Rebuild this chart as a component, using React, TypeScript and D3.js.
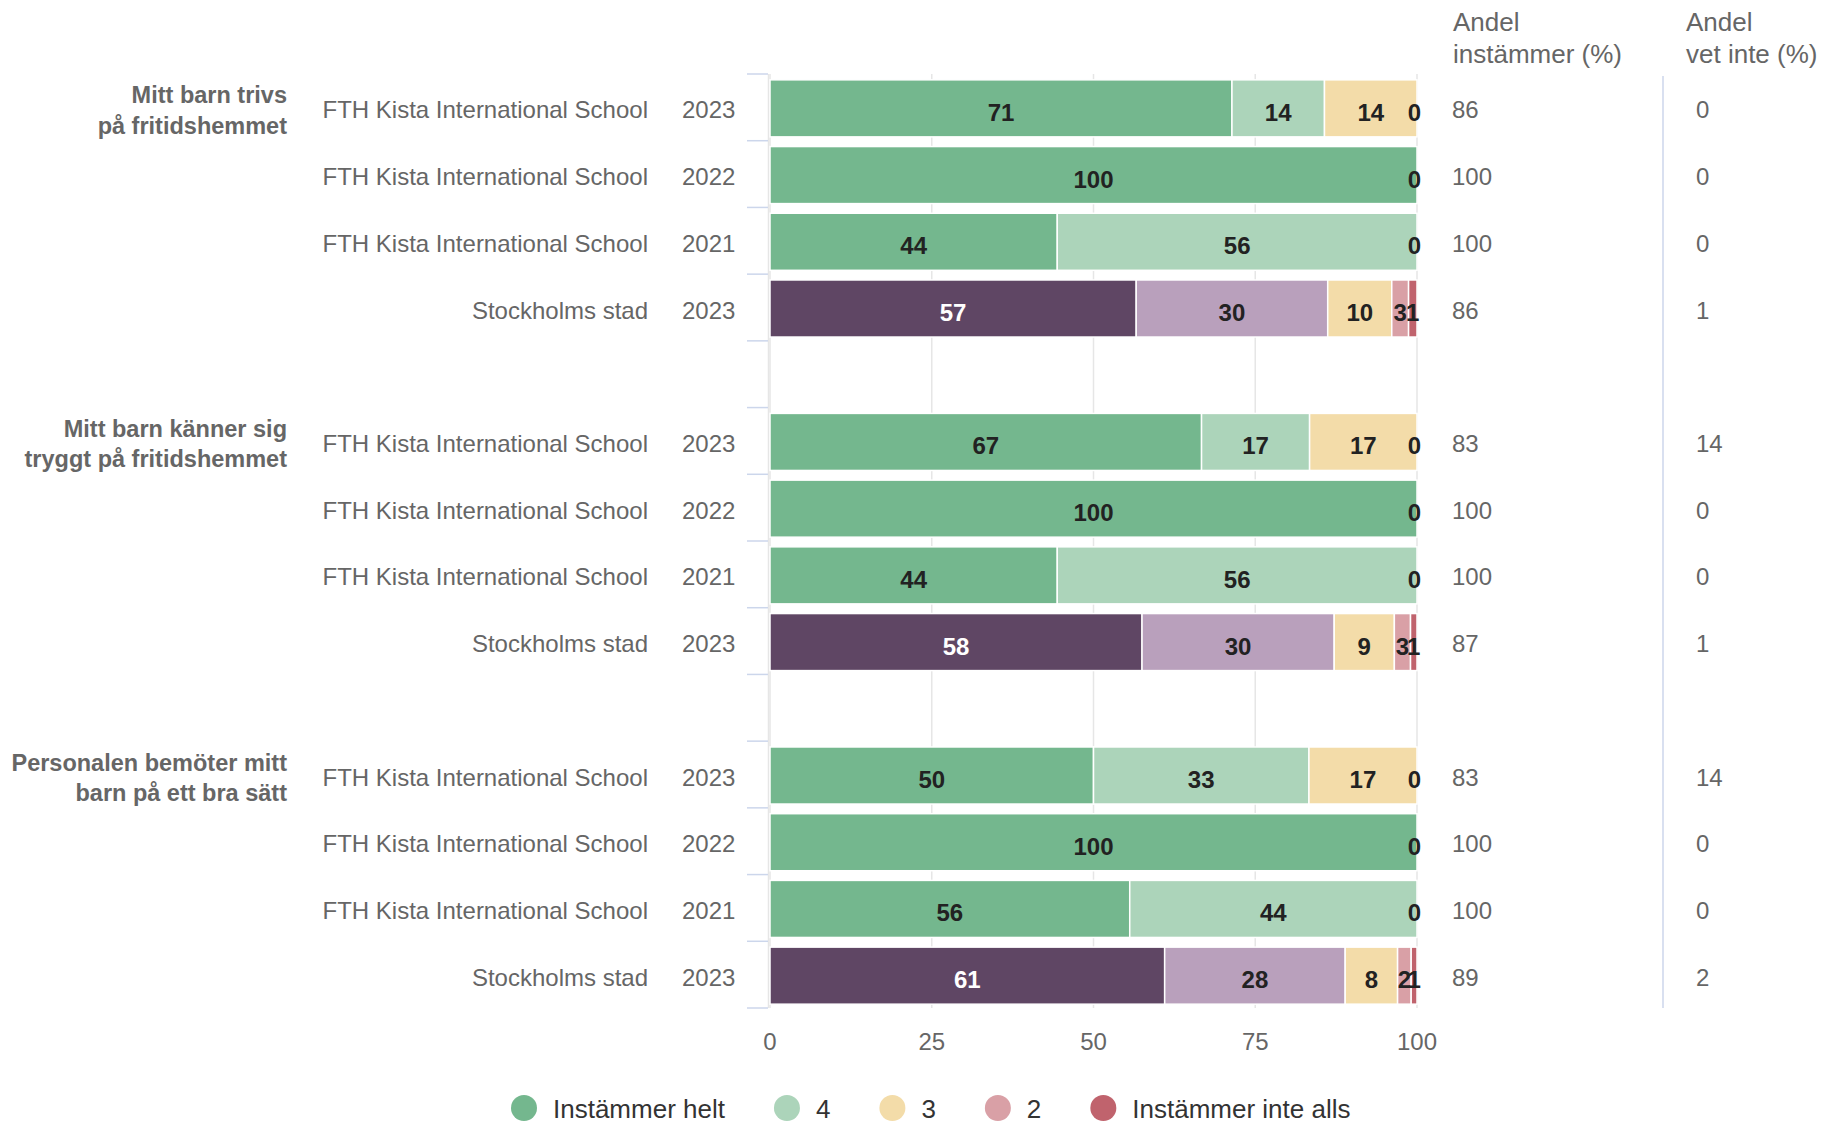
import React, { useMemo } from "react";
import * as d3 from "d3";

const groupLabels: string[][] = [
  ["Mitt barn trivs", "på fritidshemmet"],
  ["Mitt barn känner sig", "tryggt på fritidshemmet"],
  ["Personalen bemöter mitt", "barn på ett bra sätt"],
];

const units = [
  "FTH Kista International School",
  "FTH Kista International School",
  "FTH Kista International School",
  "Stockholms stad",
];
const years = ["2023", "2022", "2021", "2023"];

const seriesNames = ["Instämmer helt", "4", "3", "2", "Instämmer inte alls"];

// one value per row, group by group
const instammerHelt = [71.4, 100, 44.4, 56.6, 66.7, 100, 44.4, 57.5, 50, 100, 55.6, 61.0];
const fyra = [14.3, 0, 55.6, 29.6, 16.7, 0, 55.6, 29.7, 33.3, 0, 44.4, 27.9];
const tre = [14.3, 0, 0, 9.9, 16.6, 0, 0, 9.3, 16.7, 0, 0, 8.1];
const tva = [0, 0, 0, 2.6, 0, 0, 0, 2.5, 0, 0, 0, 2.1];
const inteAlls = [0, 0, 0, 1.3, 0, 0, 0, 1.0, 0, 0, 0, 0.9];

const andelInstammer = [86, 100, 100, 86, 83, 100, 100, 87, 83, 100, 100, 89];
const andelVetInte = [0, 0, 0, 1, 14, 0, 0, 1, 14, 0, 0, 2];

const xTicks = [0, 25, 50, 75, 100];

const fthColors = ["#74b78e", "#acd4ba", "#f3dca9", "#d9a0a6", "#c0636d"];
const sthlmColors = ["#5f4664", "#b9a0bc", "#f3dca9", "#d9a0a6", "#c0636d"];

const FONT = "'Liberation Sans', Arial, Helvetica, sans-serif";

let ctx: CanvasRenderingContext2D | null = null;
function textWidth(s: string, size: number, bold = false) {
  if (!ctx) ctx = document.createElement("canvas").getContext("2d");
  if (!ctx) return s.length * size * 0.55;
  ctx.font = `${bold ? "bold " : ""}${size}px ${FONT}`;
  return ctx.measureText(s).width;
}

export default function App() {
  const width = 1838;
  const height = 1124;

  const slots = useMemo(() => {
    const out: string[] = [];
    groupLabels.forEach((_, g) => {
      units.forEach((__, r) => out.push(`g${g}r${r}`));
      if (g < groupLabels.length - 1) out.push(`gap${g}`);
    });
    return out;
  }, []);

  const x = d3.scaleLinear().domain([0, 100]).range([770, 1417]);
  const y = d3
    .scaleBand<string>()
    .domain(slots)
    .range([74, 1008])
    .paddingInner(0.145)
    .paddingOuter(0.0725);
  const bw = y.bandwidth();
  const step = y.step();
  const top = 74;
  const bottom = 1008;

  const series = [instammerHelt, fyra, tre, tva, inteAlls];

  const rows = useMemo(() => {
    const out: any[] = [];
    groupLabels.forEach((_, g) => {
      units.forEach((unit, r) => {
        const i = g * units.length + r;
        const yy = (y(`g${g}r${r}`) as number) + 1;
        const colors = unit === "Stockholms stad" ? sthlmColors : fthColors;
        let cum = 0;
        const segs = series.map((s, k) => {
          const v = s[i];
          const seg = { k, x0: cum, x1: cum + v, v, color: colors[k] };
          cum += v;
          return seg;
        });
        out.push({ g, r, i, unit, year: years[r], yy, segs, white: unit === "Stockholms stad" });
      });
    });
    return out;
  }, [slots]);

  const labelSize = 24;
  const legendSize = 26;

  // legend layout
  let lx = 524;
  const legendItems = seriesNames.map((name, k) => {
    const item = { name, cx: lx, color: fthColors[k] };
    lx = lx + 29 + textWidth(name, legendSize) + 62;
    return item;
  });

  return (
    <svg
      width={width}
      height={height}
      style={{ position: "absolute", left: 0, top: 0, fontFamily: FONT }}
    >
      <rect width={width} height={height} fill="#ffffff" />

      {/* grid */}
      {xTicks.map((t) => (
        <line
          key={t}
          x1={x(t)}
          x2={x(t)}
          y1={top}
          y2={bottom}
          stroke="#e6e6e6"
          strokeWidth={1.5}
        />
      ))}
      <line x1={x(0) - 1.5} x2={x(0) - 1.5} y1={top} y2={bottom} stroke="#e6e6e6" strokeWidth={1.5} />

      {/* category ticks */}
      {d3.range(slots.length + 1).map((j) => (
        <line
          key={j}
          x1={747}
          x2={768}
          y1={top + j * step}
          y2={top + j * step}
          stroke="#ccd6eb"
          strokeWidth={1.5}
        />
      ))}

      {/* bars */}
      {rows.map((row) => (
        <g key={row.i}>
          {row.segs.map((s: any) =>
            s.v > 0 ? (
              <rect
                key={s.k}
                x={x(s.x0)}
                y={row.yy}
                width={x(s.x1) - x(s.x0)}
                height={bw}
                fill={s.color}
                stroke="#ffffff"
                strokeWidth={1.5}
              />
            ) : null
          )}
        </g>
      ))}

      {/* data labels */}
      {rows.map((row) => {
        let lastCx = -999;
        return (
          <g key={`l${row.i}`}>
            {row.segs.map((s: any) => {
              const txt = String(Math.round(s.v));
              const w = textWidth(txt, labelSize, true);
              let cx = (x(s.x0) + x(s.x1)) / 2;
              if (cx + w / 2 > x(100) + 4) cx = x(100) + 4 - w / 2;
              if (Math.abs(cx - lastCx) < 1) return null;
              lastCx = cx;
              return (
                <text
                  key={s.k}
                  x={cx}
                  y={row.yy + bw / 2 + 12.5}
                  textAnchor="middle"
                  fontSize={labelSize}
                  fontWeight="bold"
                  fill={row.white && s.k === 0 ? "#ffffff" : "#222222"}
                >
                  {txt}
                </text>
              );
            })}
          </g>
        );
      })}

      {/* group labels */}
      {groupLabels.map((lines, g) => {
        const cy = (y(`g${g}r0`) as number) + 1 + bw / 2;
        return (
          <text
            key={g}
            x={287}
            textAnchor="end"
            fontSize={23.5}
            fontWeight="bold"
            fill="#666666"
          >
            {lines.map((ln, j) => (
              <tspan key={j} x={287} y={cy - 5 + j * 30.5}>
                {ln}
              </tspan>
            ))}
          </text>
        );
      })}

      {/* row labels and values */}
      {rows.map((row) => {
        const cy = row.yy + bw / 2 + 10;
        return (
          <g key={`t${row.i}`} fontSize={24} fill="#666666">
            <text x={648} y={cy} textAnchor="end">
              {row.unit}
            </text>
            <text x={682} y={cy}>
              {row.year}
            </text>
            <text x={1452} y={cy}>
              {andelInstammer[row.i]}
            </text>
            <text x={1696} y={cy}>
              {andelVetInte[row.i]}
            </text>
          </g>
        );
      })}

      {/* x axis labels */}
      {xTicks.map((t) => (
        <text
          key={`x${t}`}
          x={x(t)}
          y={1050}
          textAnchor="middle"
          fontSize={24}
          fill="#666666"
        >
          {t}
        </text>
      ))}

      {/* column headers */}
      <g fontSize={26} fill="#666666">
        <text x={1453} y={31}>Andel</text>
        <text x={1453} y={63}>instämmer (%)</text>
        <text x={1686} y={31}>Andel</text>
        <text x={1686} y={63}>vet inte (%)</text>
      </g>
      <line x1={1663} x2={1663} y1={76} y2={bottom} stroke="#ccd6eb" strokeWidth={1.5} />

      {/* legend */}
      {legendItems.map((it) => (
        <g key={it.name}>
          <circle cx={it.cx} cy={1108} r={13} fill={it.color} />
          <text x={it.cx + 29} y={1118} fontSize={legendSize} fill="#333333">
            {it.name}
          </text>
        </g>
      ))}
    </svg>
  );
}
